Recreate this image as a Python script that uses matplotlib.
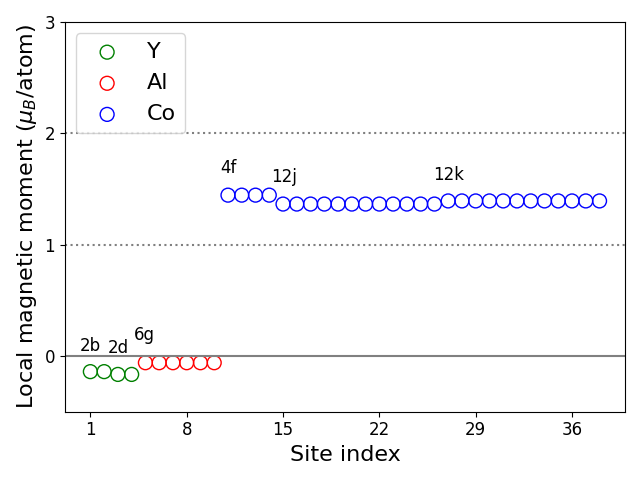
import matplotlib
matplotlib.use("Agg")
import matplotlib.pyplot as plt
import numpy as np

y_sites = [1, 2, 3, 4]
y_moments = [-0.14, -0.14, -0.165, -0.165]
al_sites = [5, 6, 7, 8, 9, 10]
al_moments = [-0.06] * 6
co_sites = list(range(11, 39))
co_moments = [1.445] * 4 + [1.365] * 12 + [1.393] * 12

labels = ["2b", "2d", "6g", "4f", "12j", "12k"]
label_x = [1, 3, 4.9, 11, 15.05, 27.0]
label_y = [0.045, 0.03, 0.14, 1.64, 1.56, 1.585]

fig, ax = plt.subplots(figsize=(6.4, 4.8), dpi=100)
ax.axhline(0, color="gray", lw=1.5)
ax.axhline(1, color="gray", ls=":", lw=1.5)
ax.axhline(2, color="gray", ls=":", lw=1.5)
ax.scatter(y_sites, y_moments, s=100, facecolors="none", edgecolors="green", label="Y")
ax.scatter(al_sites, al_moments, s=100, facecolors="none", edgecolors="red", label="Al")
ax.scatter(co_sites, co_moments, s=100, facecolors="none", edgecolors="blue", label="Co")
for t, x, y in zip(labels, label_x, label_y):
    ax.text(x, y, t, ha="center", va="baseline", fontsize=12)
ax.set_ylim(-0.5, 3)
ax.set_yticks([0, 1, 2, 3])
ax.set_xticks([1, 8, 15, 22, 29, 36])
ax.tick_params(labelsize=12)
ax.set_xlabel("Site index", fontsize=16)
ax.set_ylabel(r"Local magnetic moment ($\mu_B$/atom)", fontsize=16)
ax.legend(fontsize=16, loc="upper left")
fig.tight_layout()
fig.savefig("out.png")
